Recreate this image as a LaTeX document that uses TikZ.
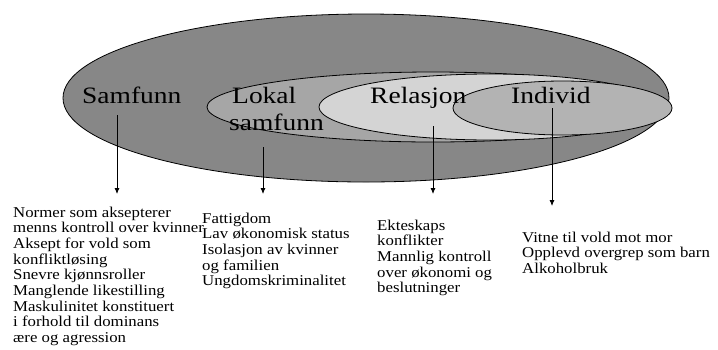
\documentclass[tikz,border=0pt]{standalone}
\usepackage{fontspec}
\setmainfont{Liberation Serif}
\newfontfamily\bigfont[FakeStretch=1.17]{Liberation Serif}
\newfontfamily\smallfont[FakeStretch=1.12]{Liberation Serif}
\usetikzlibrary{shapes.geometric,arrows.meta}
\definecolor{outergray}{RGB}{135,135,135}
\definecolor{lokalgray}{RGB}{166,166,166}
\definecolor{relgray}{RGB}{212,212,212}
\definecolor{indgray}{RGB}{179,179,179}
\newcommand{\linestack}[1]{\begin{tabular}[t]{@{}l@{}}#1\end{tabular}}
\begin{document}
\begin{tikzpicture}[x=1pt,y=-1pt,
  ring/.style={ellipse,draw=black,line width=0.8pt,inner sep=0pt},
  biglabel/.style={anchor=base west,inner sep=0pt,font=\bigfont\fontsize{23.5}{26}\selectfont},
  listtext/.style={anchor=base west,inner sep=0pt,font=\smallfont\fontsize{15}{15.7}\selectfont},
  arr/.style={line width=0.8pt,-{Latex[length=6pt,width=5pt]}}]
\useasboundingbox (0,0) rectangle (718,349);
% ellipses
\node[ring,fill=outergray,minimum width=606pt,minimum height=168pt] (outer) at (366,98) {};
\node[ring,fill=lokalgray,minimum width=452pt,minimum height=70pt] (lokalring) at (433,107) {};
\node[ring,fill=relgray,minimum width=342pt,minimum height=66pt] (relring) at (490,107) {};
\node[ring,fill=indgray,minimum width=219pt,minimum height=54pt] (indring) at (562.5,108) {};
% labels
\node[biglabel] (samfunn) at (82,103) {Samfunn};
\node[biglabel] (lokal) at (232,103) {Lokal};
\node[biglabel] (lokal2) at (229,130) {samfunn};
\node[biglabel] (relasjon) at (370,103) {Relasjon};
\node[biglabel] (individ) at (511,103) {Individ};
% arrow ends
\coordinate (s1) at (117,115); \coordinate (e1) at (117,194);
\coordinate (s2) at (263,147); \coordinate (e2) at (263,194);
\coordinate (s3) at (433,126); \coordinate (e3) at (433,194);
\coordinate (s4) at (552,108); \coordinate (e4) at (552,206);
\draw[arr] (s1) -- (e1);
\draw[arr] (s2) -- (e2);
\draw[arr] (s3) -- (e3);
\draw[arr] (s4) -- (e4);
% text blocks
\node[listtext] (t1) at (13,217) {\linestack{Normer som aksepterer\\menns kontroll over kvinner\\Aksept for vold som\\konfliktløsing\\Snevre kjønnsroller\\Manglende likestilling\\Maskulinitet konstituert\\i forhold til dominans\\ære og agression}};
\node[listtext] (t2) at (202,223) {\linestack{Fattigdom\\Lav økonomisk status\\Isolasjon av kvinner\\og familien\\Ungdomskriminalitet}};
\node[listtext] (t3) at (377,230) {\linestack{Ekteskaps\\konflikter\\Mannlig kontroll\\over økonomi og\\beslutninger}};
\node[listtext] (t4) at (522,242) {\linestack{Vitne til vold mot mor\\Opplevd overgrep som barn\\Alkoholbruk}};
\end{tikzpicture}
\end{document}
